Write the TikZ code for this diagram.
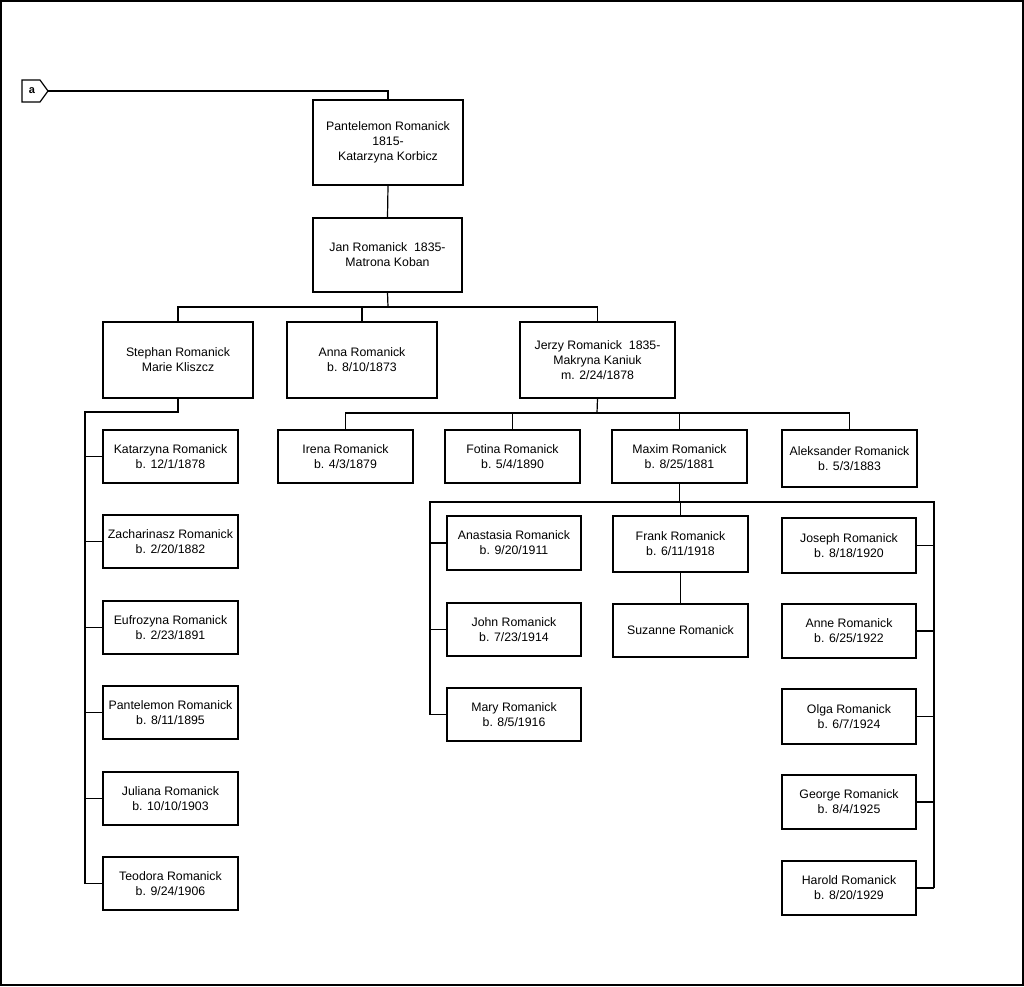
\documentclass[tikz,border=0pt]{standalone}
\usepackage{fontspec}
\setmainfont{Liberation Sans}
\begin{document}
\begin{tikzpicture}[x=1pt,y=-1pt,
  box/.style={draw,line width=1.2pt,inner sep=0pt,align=center,font=\fontsize{12.3}{15}\selectfont},
  con/.style={line width=1.2pt}]
\newcommand{\mybox}[6]{\node[box,minimum width={(#4-#2)*1pt},minimum height={(#5-#3)*1pt}] (#1) at ({(#2+#4)/2},{(#3+#5)/2}) {#6};}
\useasboundingbox (0,0) rectangle (1024,986);
\draw[line width=1.5pt] (1,1) rectangle (1023,985);
% tag
\draw[line width=1.2pt] (22,80) -- (40,80) -- (48,91) -- (40,102) -- (22,102) -- cycle;
\node[font=\bfseries\fontsize{11}{13}\selectfont] (tag) at (32,91) {a};
\coordinate (tagtip) at (48,91);
\mybox{p}{313}{100}{463}{185}{Pantelemon Romanick\\1815-\\Katarzyna Korbicz}
\mybox{jan}{313}{218}{462}{292}{Jan Romanick\ \ 1835-\\Matrona Koban}
\mybox{st}{103}{322}{253}{398}{Stephan Romanick\\Marie Kliszcz}
\mybox{an}{287}{322}{437}{398}{Anna Romanick\\b. 8/10/1873}
\mybox{je}{520}{322}{675}{398}{Jerzy Romanick\ \ 1835-\\Makryna Kaniuk\\m. 2/24/1878}
\mybox{k1}{103}{430}{238}{483}{Katarzyna Romanick\\b. 12/1/1878}
\mybox{k2}{103}{515}{238}{568}{Zacharinasz Romanick\\b. 2/20/1882}
\mybox{k3}{103}{601}{238}{654}{Eufrozyna Romanick\\b. 2/23/1891}
\mybox{k4}{103}{686}{238}{739}{Pantelemon Romanick\\b. 8/11/1895}
\mybox{k5}{103}{772}{238}{825}{Juliana Romanick\\b. 10/10/1903}
\mybox{k6}{103}{857}{238}{910}{Teodora Romanick\\b. 9/24/1906}
\mybox{ir}{278}{430}{413}{483}{Irena Romanick\\b. 4/3/1879}
\mybox{fo}{445}{430}{580}{483}{Fotina Romanick\\b. 5/4/1890}
\mybox{ma}{612}{430}{747}{483}{Maxim Romanick\\b. 8/25/1881}
\mybox{al}{782}{430}{917}{487}{Aleksander Romanick\\b. 5/3/1883}
\mybox{m1}{447}{516}{581}{570}{Anastasia Romanick\\b. 9/20/1911}
\mybox{m2}{447}{603}{581}{656}{John Romanick\\b. 7/23/1914}
\mybox{m3}{447}{688}{581}{741}{Mary Romanick\\b. 8/5/1916}
\mybox{fr}{613}{516}{748}{572}{Frank Romanick\\b. 6/11/1918}
\mybox{su}{613}{604}{748}{657}{Suzanne Romanick}
\mybox{r1}{782}{518}{916}{573}{Joseph Romanick\\b. 8/18/1920}
\mybox{r2}{782}{604}{916}{658}{Anne Romanick\\b. 6/25/1922}
\mybox{r3}{782}{689}{916}{744}{Olga Romanick\\b. 6/7/1924}
\mybox{r4}{782}{775}{916}{829}{George Romanick\\b. 8/4/1925}
\mybox{r5}{782}{861}{916}{915}{Harold Romanick\\b. 8/20/1929}
% connectors
\draw[con] (tagtip) -| (p.north);
\draw[con] (p.south) -- (jan.north);
\coordinate (b1) at (388,307);
\draw[con] (jan.south) -- (b1);
\draw[con] (st.north) |- (b1) -| (je.north);
\draw[con] (an.north) -- (an.north |- b1);
% Stephan
\coordinate (sA) at (85,412);
\draw[con] (st.south) |- (sA) -- (sA |- k6.west);
\foreach \c in {k1,k2,k3,k4,k5,k6} \draw[con] (sA |- \c.west) -- (\c.west);
% Jerzy
\coordinate (b2) at (597,413);
\draw[con] (je.south) -- (b2);
\draw[con] (ir.north) |- (b2) -| (al.north);
\draw[con] (fo.north) -- (fo.north |- b2);
\draw[con] (ma.north) -- (ma.north |- b2);
% Maxim
\coordinate (mL) at (430,502);
\coordinate (mR) at (934,502);
\draw[con] (ma.south) -- (ma.south |- mL);
\draw[con] (mL |- m3.west) -- (mL) -- (mR) -- (mR |- r5.east);
\draw[con] (fr.north |- mL) -- (fr.north);
\foreach \c in {m1,m2,m3} \draw[con] (mL |- \c.west) -- (\c.west);
\foreach \c in {r1,r2,r3,r4,r5} \draw[con] (mR |- \c.east) -- (\c.east);
\draw[con] (fr.south) -- (su.north);
\end{tikzpicture}
\end{document}
